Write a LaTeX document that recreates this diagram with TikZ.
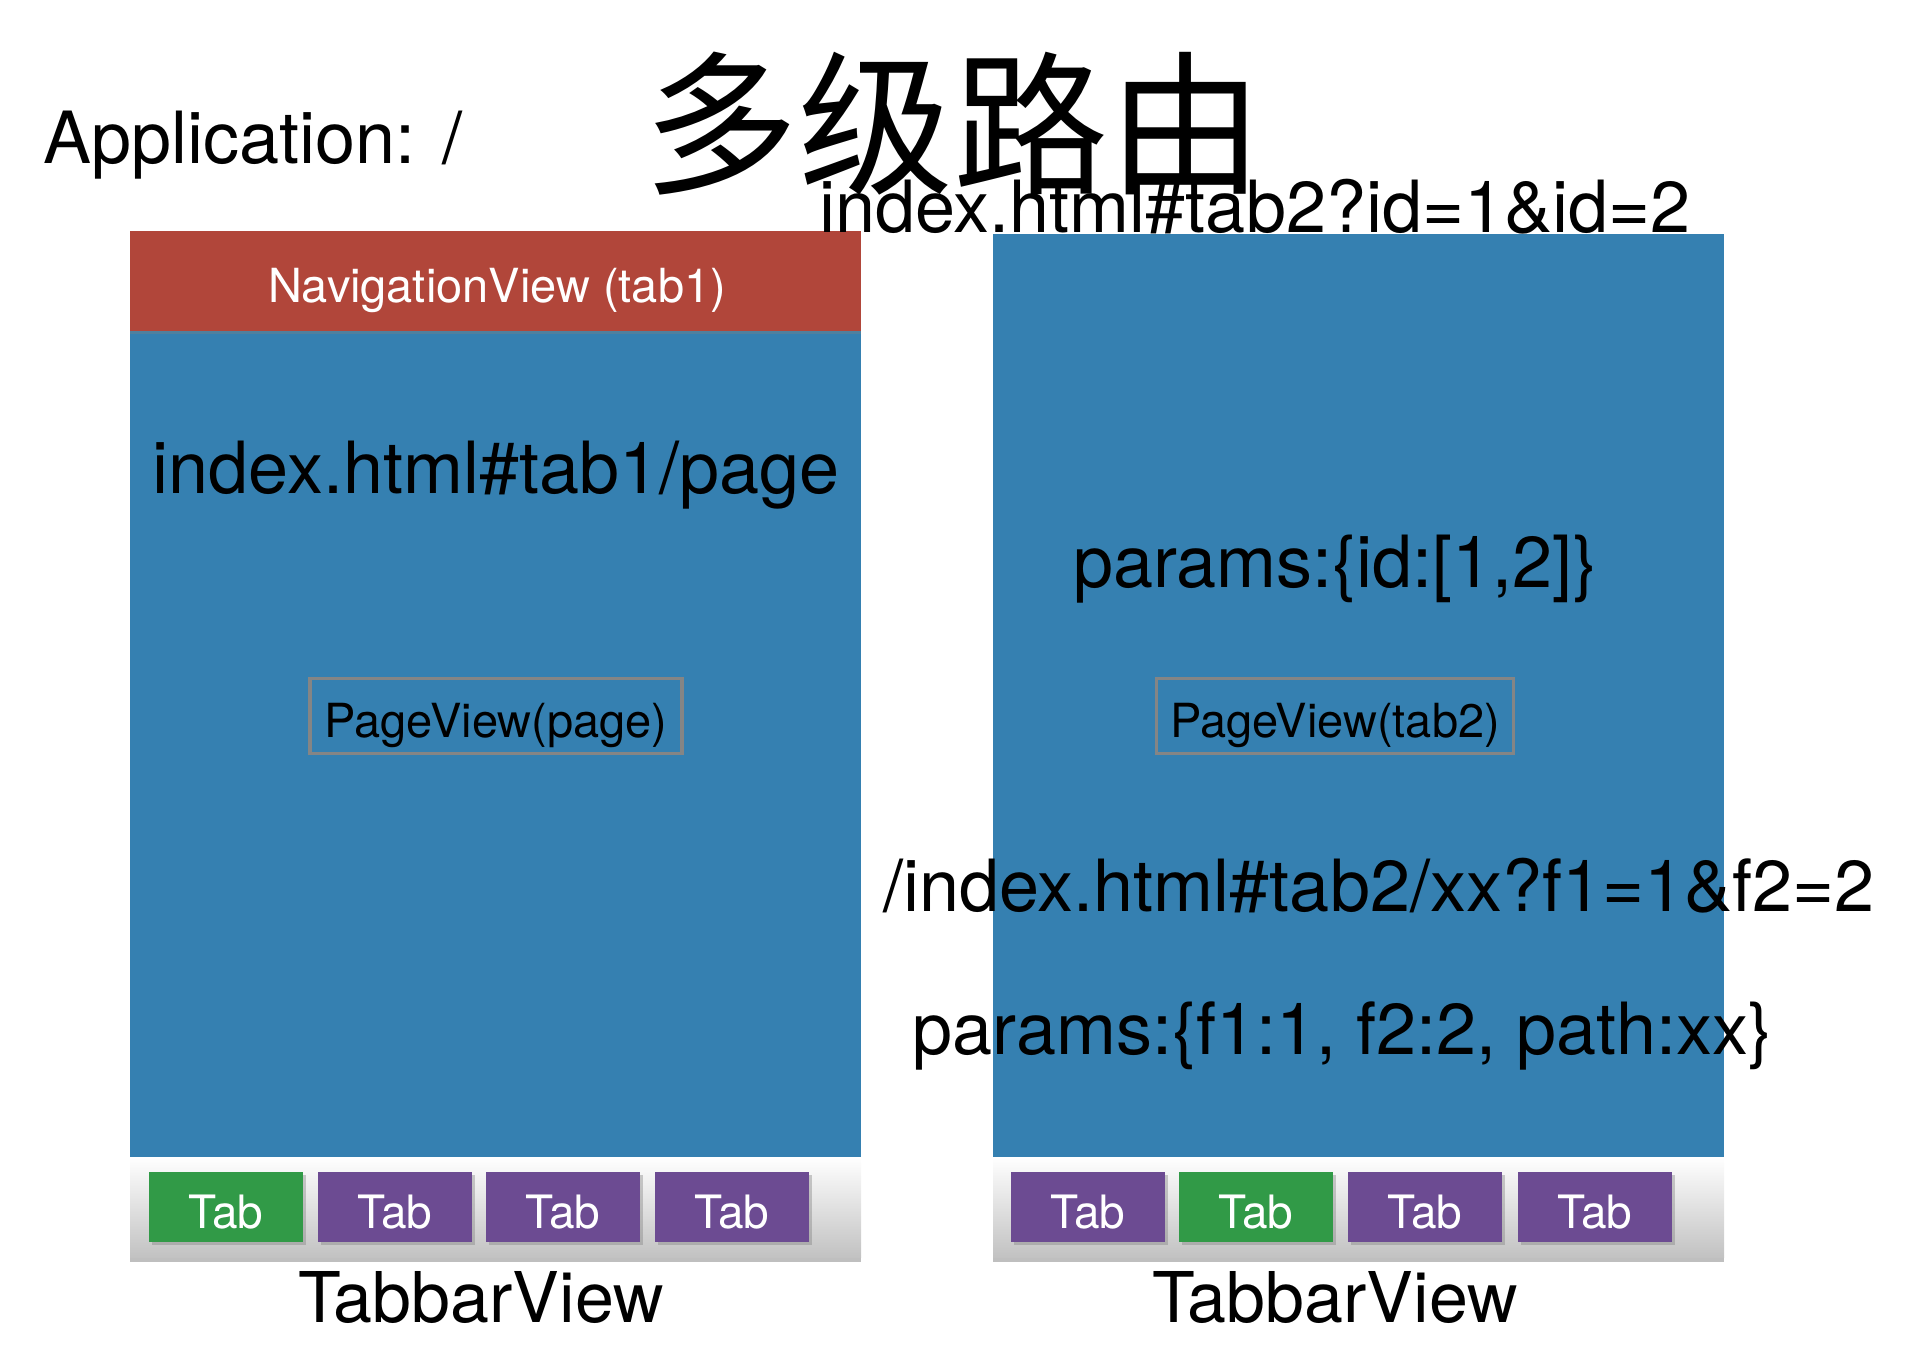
\documentclass[tikz,border=0pt]{standalone}
\usepackage{fontspec}
\setmainfont{TeX Gyre Heros}
\newfontfamily\cjkfont{Noto Sans CJK SC}
\usepackage{tikz}
\usetikzlibrary{positioning,shadows}
\definecolor{paneblue}{HTML}{3580B1}
\definecolor{navred}{HTML}{B1463A}
\definecolor{tabgreen}{HTML}{319A47}
\definecolor{tabpurple}{HTML}{6C4B92}
\definecolor{framegray}{HTML}{858585}
\newcommand{\px}[1]{\fontsize{#1}{#1}\selectfont}
\tikzset{
  pane/.style={rectangle, fill=paneblue, inner sep=0, minimum width=731, anchor=north west},
  navbar/.style={rectangle, fill=navred, inner sep=0, minimum width=731, minimum height=100, anchor=north west,
                 drop shadow={opacity=0.35, shadow xshift=0pt, shadow yshift=-3pt}},
  tabbar/.style={rectangle, top color=white, bottom color=black!24, inner sep=0, minimum width=731,
                 minimum height=100, anchor=north west,
                 drop shadow={opacity=0.5, shadow xshift=0pt, shadow yshift=-5pt}},
  pagebox/.style={rectangle, draw=framegray, line width=3.5pt, inner sep=0, minimum width=372, minimum height=75},
  biglabel/.style={font=\px{72}, anchor=base}
}
\begin{document}
\begin{tikzpicture}[x=1pt, y=-1pt]
  \useasboundingbox (0,0) rectangle (1910,1348);

  \node[font=\cjkfont\px{155}] (title) at (953,124) {多级路由};
  \node[biglabel, anchor=base west] (app) at (40,164) {Application: /};

  % left screen
  \node[pane, minimum height=826] (paneL) at (130,331) {};
  \node[navbar] (nav) at (130,231) {};
  \node[anchor=base, text=white, font=\px{47}] (navtext) at (497,302) {NavigationView (tab1)};
  \node[biglabel] (urlL) at (496,493) {index.html\#tab1/page};
  \node[pagebox] (pageL) at (496,716) {};
  \node[anchor=base, font=\px{47}] (pageLtext) at (496,737) {PageView(page)};

  % right screen
  \node[pane, minimum height=923] (paneR) at (993,234) {};
  \node[biglabel, anchor=base west] (urlR) at (816,233) {index.html\#tab2?id=1\&id=2};
  \node[biglabel] (paramR) at (1335,587) {params:\{id:[1,2]\}};
  \node[pagebox, minimum width=357] (pageR) at (1335,716) {};
  \node[anchor=base, font=\px{47}] (pageRtext) at (1335,737) {PageView(tab2)};
  \node[biglabel, anchor=base west] (urlSub) at (880,911) {/index.html\#tab2/xx?f1=1\&f2=2};
  \node[biglabel, anchor=base west] (paramSub) at (909,1054) {params:\{f1:1, f2:2, path:xx\}};

  % tab bars
  \node[tabbar] (barL) at (130,1157) {};
  \node[tabbar] (barR) at (993,1157) {};

  \begin{scope}[every node/.style={rectangle, inner sep=0, minimum width=154, minimum height=70,
                text=white, font=\px{46}, fill=tabpurple, text depth=0pt, text height=42pt,
                drop shadow={opacity=0.4, shadow xshift=3pt, shadow yshift=-3pt}}]
      \node[fill=tabgreen] (TL1) at (226,1207) {Tab};
      \node (TL2) at (395,1207) {Tab};
      \node (TL3) at (563,1207) {Tab};
      \node (TL4) at (732,1207) {Tab};
      \node (TR1) at (1088,1207) {Tab};
      \node[fill=tabgreen] (TR2) at (1256,1207) {Tab};
      \node (TR3) at (1425,1207) {Tab};
      \node (TR4) at (1595,1207) {Tab};
  \end{scope}

  \node[anchor=base, font=\px{70}] (labL) at (481,1322) {TabbarView};
  \node[anchor=base, font=\px{70}] (labR) at (1335,1322) {TabbarView};
\end{tikzpicture}
\end{document}
